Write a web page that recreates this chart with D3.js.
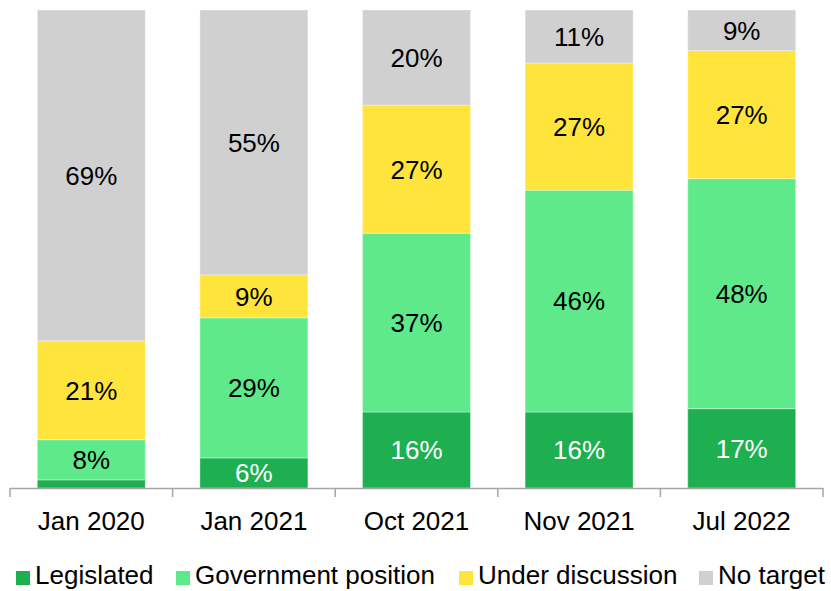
<!DOCTYPE html>
<html><head><meta charset="utf-8">
<script src="https://cdn.jsdelivr.net/npm/d3@7"></script>
<style>body{margin:0;background:#fff}svg{display:block;font-family:"Liberation Sans",Arial,sans-serif}</style>
</head><body><svg id="c" width="831" height="591"></svg>
<script>
const categories = ["Jan 2020","Jan 2021","Oct 2021","Nov 2021","Jul 2022"];
const seriesNames = ["Legislated","Government position","Under discussion","No target"];
const legislated = [1.7, 6.3, 15.9, 15.9, 16.6];
const government = [8.4, 29.3, 37.4, 46.4, 48.1];
const underDiscussion = [20.7, 9.0, 26.8, 26.6, 26.8];
const noTarget = [69.2, 55.4, 19.9, 11.1, 8.5];
const colors = ["#1eb050","#5ee98b","#ffe53b","#d0d0d0"];
const labelColors = ["#ffffff","#000000","#000000","#000000"];

const rows = categories.map((c,i)=>({cat:c, s0:legislated[i], s1:government[i], s2:underDiscussion[i], s3:noTarget[i]}));
const keys = ["s0","s1","s2","s3"];
const stack = d3.stack().keys(keys)(rows);

const svg = d3.select("#c");
const x = d3.scaleBand().domain(categories).range([10,823]).paddingInner(0.336).paddingOuter(0.168);
const y = d3.scaleLinear().domain([0,100]).range([488,10]);

const g = svg.append("g");
stack.forEach((layer,li)=>{
  g.selectAll(null).data(layer).enter().append("rect")
    .attr("x",d=>x(d.data.cat)).attr("width",x.bandwidth())
    .attr("y",d=>y(d[1])).attr("height",d=>y(d[0])-y(d[1]))
    .attr("fill",colors[li]).attr("stroke","rgba(255,255,255,0.35)").attr("stroke-width",1);
  g.selectAll(null).data(layer.filter(d=>d[1]-d[0]>=4)).enter().append("text")
    .attr("x",d=>x(d.data.cat)+x.bandwidth()/2)
    .attr("y",d=>(y(d[0])+y(d[1]))/2)
    .attr("dy","0.36em").attr("text-anchor","middle")
    .attr("font-size",26).attr("fill",labelColors[li])
    .text(d=>Math.round(d[1]-d[0])+"%");
});

// axis
const ax = svg.append("g");
ax.append("line").attr("x1",10).attr("x2",823).attr("y1",488.5).attr("y2",488.5).attr("stroke","#a6a6a6").attr("stroke-width",1.5);
const edges = categories.map(c=>x(c)-x.step()*x.paddingInner()/2);
edges.push(823);
edges[0]=10;
ax.selectAll(null).data(edges).enter().append("line")
  .attr("x1",d=>d).attr("x2",d=>d).attr("y1",488).attr("y2",497).attr("stroke","#a6a6a6").attr("stroke-width",1.5);
ax.selectAll(null).data(categories).enter().append("text")
  .attr("x",c=>x(c)+x.bandwidth()/2).attr("y",530).attr("text-anchor","middle")
  .attr("font-size",26).attr("fill","#000").text(c=>c);

// legend
const legX = [16,176,459,699];
const lg = svg.append("g");
seriesNames.forEach((n,i)=>{
  lg.append("rect").attr("x",legX[i]).attr("y",571).attr("width",14).attr("height",14).attr("fill",colors[i]);
  lg.append("text").attr("x",legX[i]+19).attr("y",584).attr("font-size",26).attr("fill","#000").text(n);
});
</script></body></html>
